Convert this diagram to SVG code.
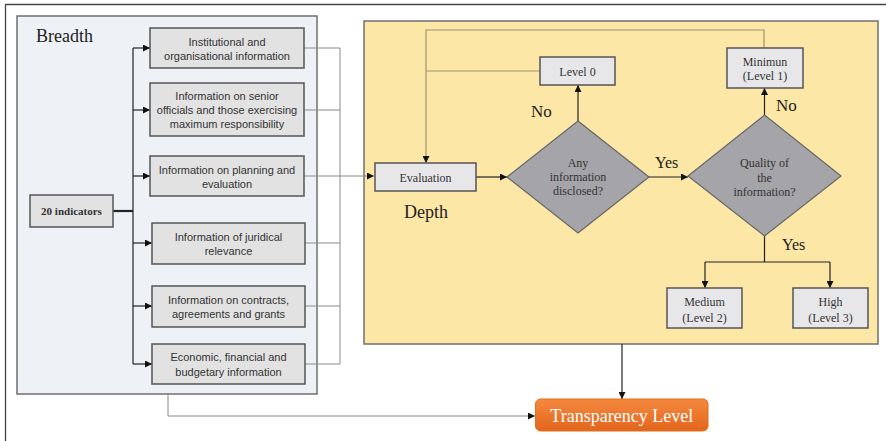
<svg xmlns="http://www.w3.org/2000/svg" width="886" height="441" viewBox="0 0 886 441">
<defs>
<marker id="ah" viewBox="0 0 8 8" refX="8" refY="4" markerWidth="7" markerHeight="7" markerUnits="userSpaceOnUse" orient="auto">
<path d="M0,0 L8,4 L0,8 z" fill="#111"/>
</marker>
<linearGradient id="og" x1="0" y1="0" x2="0" y2="1">
<stop offset="0" stop-color="#f5893f"/>
<stop offset="1" stop-color="#e2661c"/>
</linearGradient>
<style>
.panelB{fill:#eef2f7;stroke:#6f6f6f;stroke-width:1.5}
.panelY{fill:#fce7a6;stroke:#6f6f6f;stroke-width:1.5}
.box{fill:#e2e2e2;stroke:#555;stroke-width:1.5}
.lbox{fill:#e7e7ea;stroke:#555;stroke-width:1.5}
.dia{fill:#a5a4a8;stroke:#666;stroke-width:1.2}
.sans{font-family:"Liberation Sans",Arial,sans-serif;font-size:11px;fill:#333;text-anchor:middle}
.ser{font-family:"Liberation Serif","Times New Roman",serif;font-size:12px;fill:#333;text-anchor:middle}
.big{font-family:"Liberation Serif","Times New Roman",serif;font-size:18px;fill:#222}
.dk{fill:none;stroke:#222;stroke-width:1.2}
.gr{fill:none;stroke:#8a8a8a;stroke-width:1}
.ol{fill:none;stroke:#9c9676;stroke-width:1.2}
</style>
</defs>
<rect width="886" height="441" fill="#fff"/>
<path d="M5.5,441 V4.5 H886" fill="none" stroke="#444" stroke-width="1.3"/>

<g id="breadth">
<rect class="panelB" x="17" y="16" width="300" height="378"/>
<text class="big" x="36" y="42">Breadth</text>
</g>
<g id="depth-panel">
<rect class="panelY" x="364" y="21" width="514" height="323"/>
<text class="big" x="404" y="218">Depth</text>
</g>

<g id="connectors">
<!-- 20 indicators to trunk -->
<path d="M113,211 H133" fill="none" stroke="#222" stroke-width="2.2"/>
<path class="dk" d="M133,48 V364"/>
<path class="dk" d="M133,48 H150" marker-end="url(#ah)"/>
<path class="dk" d="M133,110 H150" marker-end="url(#ah)"/>
<path class="dk" d="M133,176 H150" marker-end="url(#ah)"/>
<path class="dk" d="M133,243 H152" marker-end="url(#ah)"/>
<path class="dk" d="M133,306 H152" marker-end="url(#ah)"/>
<path class="dk" d="M133,364 H152" marker-end="url(#ah)"/>
<!-- gray collectors -->
<path class="gr" d="M304,48 H340 V364 H305 M304,110 H340 M305,243 H340 M305,306 H340"/>
<path class="gr" d="M304,176 H374" marker-end="url(#ah)"/>
<!-- loops -->
<path class="ol" d="M764,48 V30 H426 V163" marker-end="url(#ah)"/>
<path class="ol" d="M540,71 H426"/>
<!-- flow -->
<path class="dk" d="M476,177 H507" marker-end="url(#ah)"/>
<path class="dk" d="M578,121 V85" marker-end="url(#ah)"/>
<path class="dk" d="M649,177 H688" marker-end="url(#ah)"/>
<path class="dk" d="M764.5,115 V88" marker-end="url(#ah)"/>
<path class="dk" d="M764.5,236 V262 M705,262 H830"/>
<path class="dk" d="M705,262 V288" marker-end="url(#ah)"/>
<path class="dk" d="M830,262 V288" marker-end="url(#ah)"/>
<path class="dk" d="M622,344 V399" marker-end="url(#ah)"/>
<path class="gr" d="M168,394 V416 H535" marker-end="url(#ah)"/>
</g>

<g id="n-20">
<rect class="box" x="30" y="195" width="83" height="32"/>
<text class="ser" x="71.5" y="215" style="font-weight:bold;font-size:11px">20 indicators</text>
</g>
<g id="n-inst">
<rect class="box" x="150" y="28" width="154" height="40"/>
<text class="sans" x="227" y="46">Institutional and</text>
<text class="sans" x="227" y="60">organisational information</text>
</g>
<g id="n-senior">
<rect class="box" x="150" y="83" width="154" height="53"/>
<text class="sans" x="227" y="100">Information on senior</text>
<text class="sans" x="227" y="114">officials and those exercising</text>
<text class="sans" x="227" y="128">maximum responsibility</text>
</g>
<g id="n-planning">
<rect class="box" x="150" y="156" width="154" height="40"/>
<text class="sans" x="227" y="174">Information on planning and</text>
<text class="sans" x="227" y="188">evaluation</text>
</g>
<g id="n-juridical">
<rect class="box" x="152" y="223" width="153" height="41"/>
<text class="sans" x="228.5" y="241">Information of juridical</text>
<text class="sans" x="228.5" y="255">relevance</text>
</g>
<g id="n-contracts">
<rect class="box" x="152" y="286" width="153" height="41"/>
<text class="sans" x="228.5" y="304">Information on contracts,</text>
<text class="sans" x="228.5" y="318">agreements and grants</text>
</g>
<g id="n-economic">
<rect class="box" x="152" y="344" width="153" height="40"/>
<text class="sans" x="228.5" y="361">Economic, financial and</text>
<text class="sans" x="228.5" y="376">budgetary information</text>
</g>

<g id="n-evaluation">
<rect class="lbox" x="375" y="163" width="101" height="28"/>
<text class="ser" x="425.5" y="182">Evaluation</text>
</g>
<g id="n-level0">
<rect class="lbox" x="540" y="57" width="75" height="28"/>
<text class="ser" x="577.5" y="76">Level 0</text>
</g>
<g id="n-any">
<polygon class="dia" points="578,121 649,177 578,233 507,177"/>
<text class="ser" x="578" y="167">Any</text>
<text class="ser" x="578" y="181">information</text>
<text class="ser" x="578" y="195">disclosed?</text>
</g>
<g id="n-quality">
<polygon class="dia" points="764.5,115 841,176 764.5,236 688,176"/>
<text class="ser" x="764.5" y="167">Quality of</text>
<text class="ser" x="764.5" y="182">the</text>
<text class="ser" x="764.5" y="196">information?</text>
</g>
<g id="n-min">
<rect class="lbox" x="727" y="48" width="76" height="40"/>
<text class="ser" x="765" y="66">Minimun</text>
<text class="ser" x="765" y="80">(Level 1)</text>
</g>
<g id="n-medium">
<rect class="lbox" x="667" y="288" width="75" height="40"/>
<text class="ser" x="704.5" y="306">Medium</text>
<text class="ser" x="704.5" y="322">(Level 2)</text>
</g>
<g id="n-high">
<rect class="lbox" x="793" y="288" width="75" height="40"/>
<text class="ser" x="830.5" y="306">High</text>
<text class="ser" x="830.5" y="322">(Level 3)</text>
</g>
<g id="labels">
<text class="big" x="531" y="117" style="font-size:17px">No</text>
<text class="big" x="776" y="111" style="font-size:17px">No</text>
<text class="big" x="655" y="168" style="font-size:16px">Yes</text>
<text class="big" x="782" y="250" style="font-size:16px">Yes</text>
</g>
<g id="n-transparency">
<rect x="535.5" y="399" width="172.5" height="32" rx="5" fill="url(#og)" stroke="#e0701f" stroke-width="1"/>
<text x="621.75" y="422" text-anchor="middle" style="font-family:'Liberation Serif','Times New Roman',serif;font-size:18px;fill:#fff">Transparency Level</text>
</g>
</svg>
